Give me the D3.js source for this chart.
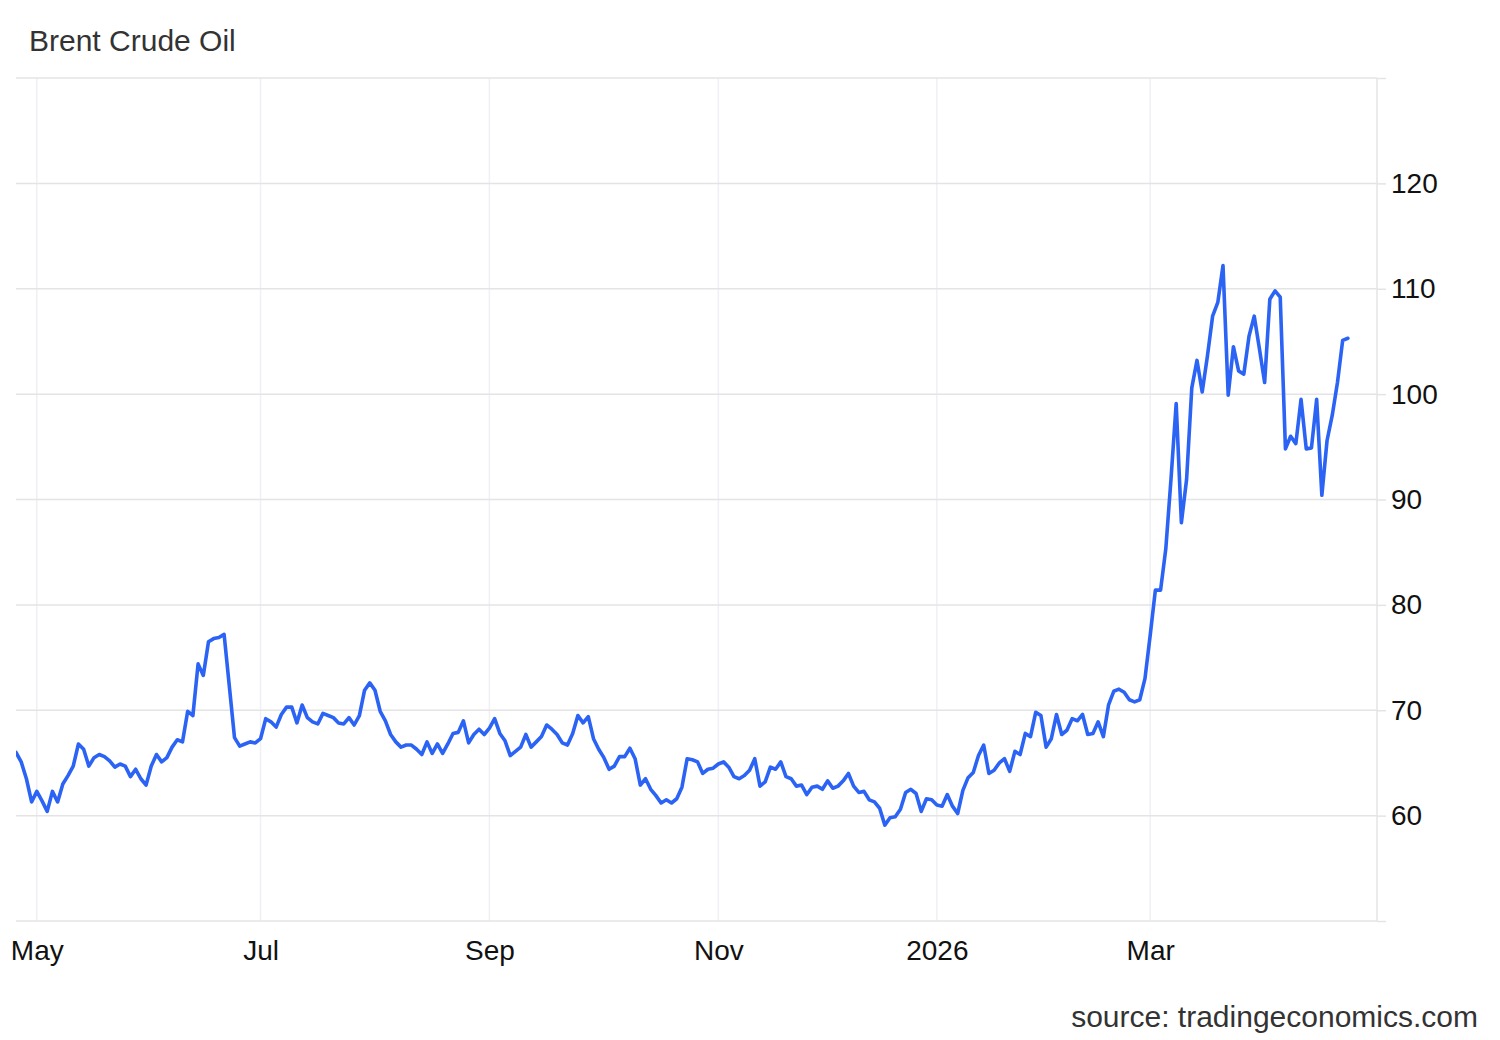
<!DOCTYPE html>
<html>
<head>
<meta charset="utf-8">
<title>Brent Crude Oil</title>
<script src="https://cdn.jsdelivr.net/npm/d3@7"></script>
<style>
  body { margin: 0; background: #fff; }
  svg { display: block; font-family: "Liberation Sans", Arial, sans-serif; }
  .grid-h line { stroke: #e4e4e4; stroke-width: 1.5; }
  .grid-v line { stroke: #eef0f5; stroke-width: 1.5; }
  .y-axis path, .y-axis line { stroke: #e4e4e4; stroke-width: 1.5; }
  .y-axis text { fill: #111; font-size: 28px; }
  .x-axis path, .x-axis line { display: none; }
  .x-axis text { fill: #111; font-size: 28px; }
  .price-line { fill: none; stroke: #2b63f4; stroke-width: 3.6; stroke-linejoin: round; stroke-linecap: round; }
</style>
</head>
<body>
<svg id="mainCanvas" width="1500" height="1040"></svg>
<script>
var width = 1500;
var height = 1040;
var plotLeft = 16, plotRight = 1377, plotTop = 78, plotBottom = 921;

// daily close, late Apr 2025 -> Apr 2026 (trading days)
var prices = [
    66.0, 65.1, 63.5, 61.3, 62.3, 61.4, 60.4, 62.3, 61.3, 63.0,
    63.8, 64.7, 66.8, 66.3, 64.7, 65.5, 65.8, 65.6, 65.2, 64.6,
    64.9, 64.7, 63.7, 64.4, 63.5, 62.9, 64.7, 65.8, 65.1, 65.5,
    66.5, 67.2, 67.0, 69.9, 69.5, 74.4, 73.3, 76.5, 76.8, 76.9,
    77.2, 72.3, 67.4, 66.6, 66.8, 67.0, 66.9, 67.3, 69.2, 68.9,
    68.4, 69.6, 70.3, 70.3, 68.8, 70.5, 69.3, 68.9, 68.7, 69.7,
    69.5, 69.3, 68.8, 68.7, 69.3, 68.6, 69.5, 71.9, 72.6, 71.9,
    69.9, 69.0, 67.7, 67.0, 66.5, 66.7, 66.7, 66.3, 65.8, 67.0,
    65.9, 66.8, 65.9, 66.8, 67.8, 67.9, 69.0, 66.9, 67.7, 68.2,
    67.7, 68.3, 69.2, 67.8, 67.1, 65.7, 66.1, 66.5, 67.7, 66.5,
    67.0, 67.5, 68.6, 68.2, 67.7, 66.9, 66.7, 67.8, 69.5, 68.8,
    69.4, 67.3, 66.3, 65.5, 64.4, 64.7, 65.6, 65.6, 66.4, 65.4,
    62.9, 63.5, 62.5, 61.9, 61.2, 61.5, 61.2, 61.6, 62.7, 65.4,
    65.3, 65.1, 64.0, 64.4, 64.5, 64.9, 65.1, 64.6, 63.7, 63.5,
    63.8, 64.3, 65.4, 62.8, 63.2, 64.6, 64.4, 65.1, 63.7, 63.5,
    62.8, 62.9, 62.0, 62.7, 62.8, 62.5, 63.3, 62.6, 62.8, 63.3,
    64.0, 62.8, 62.2, 62.3, 61.5, 61.3, 60.7, 59.1, 59.8, 59.9,
    60.6, 62.2, 62.5, 62.1, 60.4, 61.6, 61.5, 61.0, 60.9, 62.0,
    60.9, 60.2, 62.4, 63.6, 64.1, 65.7, 66.7, 64.0, 64.3, 65.0,
    65.4, 64.2, 66.1, 65.8, 67.8, 67.5, 69.8, 69.5, 66.5, 67.3,
    69.6, 67.7, 68.1, 69.2, 69.0, 69.6, 67.7, 67.8, 68.9, 67.5,
    70.5, 71.8, 72.0, 71.7, 71.0, 70.8, 71.0, 73.0, 77.1, 81.4,
    81.4, 85.3, 91.9, 99.1, 87.8, 91.9, 100.6, 103.2, 100.2, 103.6,
    107.4, 108.7, 112.2, 99.9, 104.5, 102.2, 101.9, 105.5, 107.4, 104.3,
    101.1, 109.0, 109.8, 109.2, 94.8, 96.0, 95.3, 99.5, 94.8, 94.9,
    99.5, 90.4, 95.6, 98.0, 101.1, 105.1, 105.3
];

// month labels and the trading-day index where each one sits
var tickLabels = ['May', 'Jul', 'Sep', 'Nov', '2026', 'Mar'];
var tickIdx = [4, 47, 91, 135, 177, 218];

var yTicks = [50, 60, 70, 80, 90, 100, 110, 120, 130];
var yLabelled = [60, 70, 80, 90, 100, 110, 120];

var svg = d3.select('#mainCanvas');

var x = d3.scaleLinear()
    .domain([0, prices.length - 1 + 5.6])
    .range([plotLeft, plotRight]);

var y = d3.scaleLinear()
    .domain([50, 130])
    .range([plotBottom, plotTop]);

svg.append('text')
    .attr('x', 29)
    .attr('y', 51)
    .attr('fill', '#333')
    .style('font-size', '30px')
    .text('Brent Crude Oil');

// vertical month grid
svg.append('g')
    .attr('class', 'grid-v')
    .selectAll('line')
    .data(tickIdx)
    .enter()
    .append('line')
    .attr('x1', function(d) { return x(d); })
    .attr('x2', function(d) { return x(d); })
    .attr('y1', plotTop)
    .attr('y2', plotBottom);

// horizontal grid
svg.append('g')
    .attr('class', 'grid-h')
    .selectAll('line')
    .data(yTicks)
    .enter()
    .append('line')
    .attr('x1', plotLeft)
    .attr('x2', plotRight)
    .attr('y1', function(d) { return y(d); })
    .attr('y2', function(d) { return y(d); });

var yAxis = d3.axisRight(y)
    .tickValues(yTicks)
    .tickSize(9)
    .tickPadding(5)
    .tickFormat(function(d) {
        return yLabelled.indexOf(d) >= 0 ? d : '';
    });

svg.append('g')
    .attr('class', 'y-axis')
    .attr('transform', 'translate(' + plotRight + ',0)')
    .call(yAxis)
    .call(function(g) { g.select('.domain').attr('d', 'M0,' + plotTop + 'V' + plotBottom); });

var xAxis = d3.axisBottom(x)
    .tickValues(tickIdx)
    .tickSize(0)
    .tickPadding(19)
    .tickFormat(function(d, i) { return tickLabels[i]; });

svg.append('g')
    .attr('class', 'x-axis')
    .attr('transform', 'translate(0,' + plotBottom + ')')
    .call(xAxis);

svg.append('clipPath')
    .attr('id', 'plotClip')
    .append('rect')
    .attr('x', plotLeft)
    .attr('y', plotTop - 10)
    .attr('width', plotRight - plotLeft)
    .attr('height', plotBottom - plotTop + 20);

var line = d3.line()
    .x(function(d, i) { return x(i); })
    .y(function(d) { return y(d); });

svg.append('path')
    .datum(prices)
    .attr('class', 'price-line')
    .attr('clip-path', 'url(#plotClip)')
    .attr('d', line);

svg.append('text')
    .attr('x', 1478)
    .attr('y', 1027)
    .attr('text-anchor', 'end')
    .attr('fill', '#333')
    .style('font-size', '30px')
    .text('source: tradingeconomics.com');
</script>
</body>
</html>
